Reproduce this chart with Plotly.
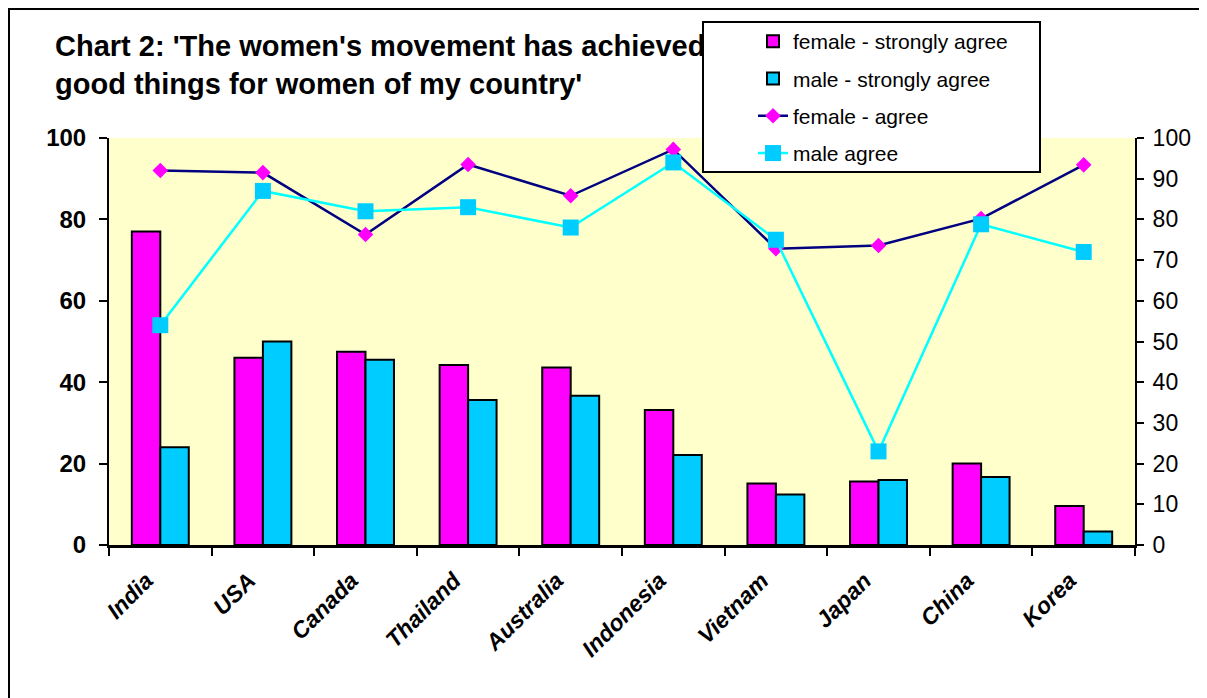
import plotly.graph_objects as go

countries = ["India", "USA", "Canada", "Thailand", "Australia", "Indonesia",
             "Vietnam", "Japan", "China", "Korea"]
female_strongly = [77, 46, 47.5, 44.2, 43.6, 33.2, 15.1, 15.6, 20, 9.6]
male_strongly = [24, 50, 45.5, 35.6, 36.7, 22.1, 12.4, 16, 16.7, 3.3]
female_agree = [92, 91.5, 76.3, 93.5, 85.8, 97.2, 72.8, 73.6, 80.2, 93.4]
male_agree = [54, 87, 82, 83, 78, 94, 75, 23, 78.8, 72]

# page coordinates (the page body adds an 8px offset)
OFF = 8
L, R, T, B = 109, 1135, 138, 545
W, H = 1199, 690
pw, ph = R - L, B - T

def px(x):
    return (x - L) / pw

def py(y):
    return (B - y) / ph

FONT = "Liberation Sans, Arial, sans-serif"

fig = go.Figure()
fig.add_trace(go.Bar(x=countries, y=female_strongly, name="female - strongly agree",
                     marker=dict(color="#FF00FF", line=dict(color="black", width=2)),
                     legendgroup="a"))
fig.add_trace(go.Bar(x=countries, y=male_strongly, name="male - strongly agree",
                     marker=dict(color="#00CCFF", line=dict(color="black", width=2)),
                     legendgroup="b"))
fig.add_trace(go.Scatter(x=countries, y=female_agree, name="female - agree", yaxis="y2",
                         mode="lines+markers",
                         line=dict(color="#000080", width=2.5),
                         marker=dict(symbol="diamond", size=12, color="#FF00FF"),
                         legendgroup="c"))
fig.add_trace(go.Scatter(x=countries, y=male_agree, name="male agree", yaxis="y2",
                         mode="lines+markers",
                         line=dict(color="#00FFFF", width=2.5),
                         marker=dict(symbol="square", size=16, color="#00CCFF"),
                         legendgroup="d"))

fig.update_layout(
    width=W, height=H, autosize=False,
    margin=dict(l=L - OFF, r=W - (R - OFF), t=T - OFF, b=H - (B - OFF)),
    paper_bgcolor="white", plot_bgcolor="#FFFFCC",
    barmode="group", bargap=0.445, bargroupgap=0,
    font=dict(family=FONT, color="black"),
    title=dict(text="Chart 2: 'The women's movement has achieved<br>good things for women of my country'",
               x=(55 - OFF) / W, xanchor="left", xref="container",
               y=1 - 48 / H, yanchor="top", yref="container",
               font=dict(family=FONT, size=29, color="black", weight="bold")),
    xaxis=dict(type="category", range=[-0.5, 9.5], tickson="boundaries",
               ticks="outside", ticklen=8, tickwidth=2, tickcolor="black",
               showline=True, linecolor="black", linewidth=3,
               tickangle=-45, showgrid=False, zeroline=False,
               ticklabelstandoff=10, ticklabelshift=-14,
               tickfont=dict(family=FONT, size=23, weight="bold", style="italic")),
    yaxis=dict(range=[0, 100], dtick=20, ticks="outside", ticklen=8, tickwidth=2,
               tickcolor="black", showline=True, linecolor="black", linewidth=2,
               showgrid=False, zeroline=False, ticklabelstandoff=8,
               tickfont=dict(family=FONT, size=24, weight="bold")),
    yaxis2=dict(range=[0, 100], dtick=10, overlaying="y", side="right",
                ticks="outside", ticklen=7, tickwidth=2, tickcolor="black",
                showline=True, linecolor="black", linewidth=2,
                showgrid=False, zeroline=False, ticklabelstandoff=4,
                tickfont=dict(family=FONT, size=23)),
    yaxis3=dict(range=[0, 100], dtick=20, overlaying="y", side="left",
                ticks="inside", ticklen=7, tickwidth=2, tickcolor="black",
                showticklabels=False, showline=False, showgrid=False, zeroline=False),
    yaxis4=dict(range=[0, 100], dtick=10, overlaying="y", side="right",
                ticks="inside", ticklen=7, tickwidth=2, tickcolor="black",
                showticklabels=False, showline=False, showgrid=False, zeroline=False),
    legend=dict(x=px(753), y=py(21), xanchor="left", yanchor="top",
                bgcolor="rgba(0,0,0,0)", borderwidth=0,
                tracegroupgap=7, traceorder="grouped",
                font=dict(family=FONT, size=21, color="black")),
    shapes=[
        dict(type="rect", xref="paper", yref="paper",
             x0=px(703), x1=px(1040), y0=py(172), y1=py(22),
             line=dict(color="black", width=2), fillcolor="white", layer="above"),
        dict(type="rect", xref="paper", yref="paper",
             x0=px(9), x1=px(1203), y0=py(720), y1=py(9),
             line=dict(color="black", width=2), fillcolor="rgba(0,0,0,0)", layer="above"),
    ],
)

fig.write_html("out.html")
